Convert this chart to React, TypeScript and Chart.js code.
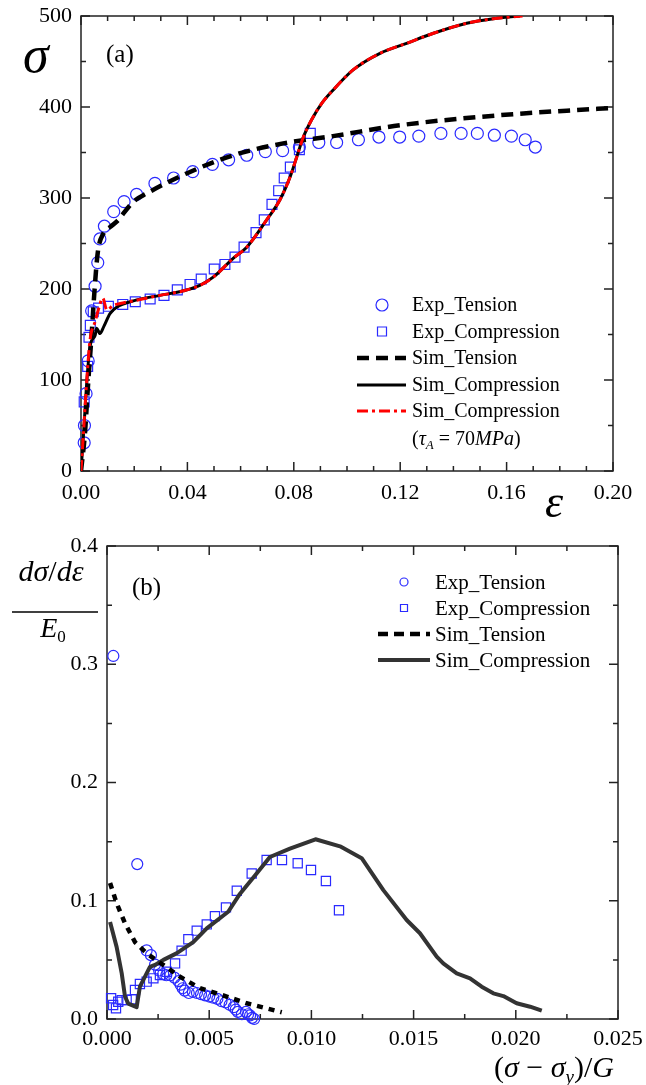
import React, { useEffect, useRef } from "react";
import { Chart, registerables } from "chart.js";
Chart.register(...registerables);

const FONT = "'Liberation Serif', 'Times New Roman', Times, serif";

// ---------------- Panel (a): stress-strain ----------------
const aExpTensionStrain = [0.0012, 0.0013, 0.0019, 0.0027, 0.004, 0.0053, 0.0063, 0.0071, 0.0088, 0.0123, 0.0162, 0.0209, 0.0278, 0.0348, 0.042, 0.0494, 0.0555, 0.0623, 0.0693, 0.0758, 0.0821, 0.0894, 0.0961, 0.1043, 0.112, 0.1198, 0.127, 0.1353, 0.1429, 0.149, 0.1554, 0.1618, 0.167, 0.1708];
const aExpTensionStress = [31, 50, 85, 121, 176, 203, 229, 255, 269, 285, 296, 304, 316, 322, 329, 337, 342, 347, 351, 352, 356, 361, 361, 364, 367, 367, 368, 371, 371, 371, 369, 368, 364, 356];

const aExpCompStrain = [0.0012, 0.0025, 0.003, 0.0035, 0.0046, 0.0066, 0.0103, 0.0157, 0.0204, 0.026, 0.0312, 0.0362, 0.041, 0.0452, 0.0501, 0.0541, 0.0579, 0.0613, 0.0658, 0.0689, 0.0718, 0.0743, 0.0764, 0.0787, 0.0821, 0.0862];
const aExpCompStress = [76, 115, 147, 160, 175, 179, 181, 183, 186, 189, 193, 199, 205, 211, 222, 227, 235, 246, 262, 276, 293, 308, 322, 334, 353, 371];

const aSimTensionStrain = [0, 0.0015, 0.0027, 0.004, 0.005, 0.0063, 0.0084, 0.0109, 0.0134, 0.0197, 0.0247, 0.0397, 0.0573, 0.076, 0.0947, 0.12, 0.1575, 0.1826, 0.2];
const aSimTensionStress = [0, 42, 97, 150, 195, 240, 261, 268, 274, 296, 305, 327, 347, 360, 368, 380, 391, 396, 399];

const aSimCompStrain = [0, 0.0009, 0.0019, 0.0034, 0.0053, 0.0059, 0.0071, 0.0086, 0.0109, 0.0134, 0.0197, 0.0297, 0.0385, 0.0447, 0.0497, 0.0573, 0.0623, 0.0698, 0.0748, 0.0786, 0.0811, 0.0836, 0.0867, 0.0905, 0.0949, 0.1024, 0.1124, 0.1224, 0.1325, 0.145, 0.155, 0.165];
const aSimCompStress = [0, 38, 86, 137, 149, 157, 151, 159, 173, 180, 187, 193, 198, 204, 213, 234, 246, 276, 298, 323, 345, 367, 386, 404, 419, 441, 459, 470, 481, 492, 497, 500];

const aSimComp70Strain = [0, 0.0009, 0.0019, 0.0034, 0.0053, 0.0065, 0.0082, 0.0097, 0.0121, 0.0147, 0.0197, 0.0297, 0.0385, 0.0447, 0.0497, 0.0573, 0.0623, 0.0698, 0.0748, 0.0786, 0.0811, 0.0836, 0.0867, 0.0905, 0.0949, 0.1024, 0.1124, 0.1224, 0.1325, 0.145, 0.155, 0.166];
const aSimComp70Stress = [0, 40, 88, 144, 164, 177, 190, 177, 182, 184, 187, 193, 198, 204, 213, 234, 246, 276, 298, 323, 345, 367, 386, 404, 419, 441, 459, 470, 481, 492, 497, 500];

const aLabels = ["Exp_Tension", "Exp_Compression", "Sim_Tension", "Sim_Compression", "Sim_Compression"];
const aXRange = [0, 0.2];
const aXStep = 0.04;
const aYRange = [0, 500];
const aYStep = 100;

// ---------------- Panel (b): hardening rate ----------------
const bExpTensionX = [0.00031, 0.00148, 0.00194, 0.00215, 0.00235, 0.00255, 0.00275, 0.0029, 0.0031, 0.0033, 0.0035, 0.0036, 0.0037, 0.0038, 0.004, 0.0042, 0.0044, 0.0046, 0.0048, 0.005, 0.0052, 0.0054, 0.0056, 0.0058, 0.006, 0.0062, 0.0063, 0.0064, 0.0066, 0.0068, 0.0069, 0.007, 0.0071, 0.0072];
const bExpTensionY = [0.307, 0.131, 0.058, 0.054, 0.046, 0.041, 0.038, 0.037, 0.037, 0.035, 0.032, 0.029, 0.026, 0.024, 0.022, 0.023, 0.022, 0.021, 0.02, 0.019, 0.018, 0.017, 0.015, 0.014, 0.012, 0.01, 0.008, 0.006, 0.004, 0.006, 0.004, 0.003, 0.001, 0.0];

const bExpCompX = [0.0002, 0.0003, 0.00044, 0.00055, 0.00072, 0.00096, 0.00121, 0.00137, 0.00161, 0.00194, 0.00227, 0.00259, 0.00292, 0.00333, 0.00365, 0.00398, 0.00439, 0.00488, 0.00528, 0.00582, 0.00635, 0.00708, 0.00781, 0.00856, 0.00933, 0.00998, 0.01071, 0.01135];
const bExpCompY = [0.0175, 0.0118, 0.009, 0.0146, 0.016, 0.016, 0.0166, 0.0245, 0.0296, 0.0316, 0.0344, 0.0372, 0.04, 0.047, 0.0578, 0.0674, 0.0747, 0.08, 0.087, 0.0944, 0.1085, 0.123, 0.1345, 0.1345, 0.1317, 0.126, 0.1167, 0.092];

const bSimTensionX = [0.00015, 0.00047, 0.00088, 0.00137, 0.00194, 0.00275, 0.00357, 0.00455, 0.00586, 0.00683, 0.00781, 0.00855];
const bSimTensionY = [0.115, 0.098, 0.081, 0.065, 0.0555, 0.0457, 0.0358, 0.026, 0.019, 0.0133, 0.009, 0.0057];

const bSimCompX = [0.00015, 0.00047, 0.00072, 0.00088, 0.00104, 0.00145, 0.00161, 0.0021, 0.00235, 0.00276, 0.0034, 0.00422, 0.00488, 0.00593, 0.00651, 0.00732, 0.00797, 0.00895, 0.0102, 0.0114, 0.01246, 0.01352, 0.01466, 0.01531, 0.01613, 0.01645, 0.01711, 0.01776, 0.01833, 0.0189, 0.01939, 0.02004, 0.0207, 0.02127];
const bSimCompY = [0.082, 0.061, 0.0386, 0.019, 0.013, 0.01, 0.0273, 0.044, 0.0457, 0.05, 0.0555, 0.065, 0.0767, 0.0907, 0.106, 0.123, 0.137, 0.144, 0.152, 0.146, 0.136, 0.109, 0.0837, 0.0725, 0.0527, 0.047, 0.0386, 0.0344, 0.0273, 0.0217, 0.0194, 0.0133, 0.0104, 0.007];

const bLabels = ["Exp_Tension", "Exp_Compression", "Sim_Tension", "Sim_Compression"];
const bXRange = [0, 0.025];
const bXStep = 0.005;
const bYRange = [0, 0.4];
const bYStep = 0.1;

// ---------------- helpers ----------------
const pts = (xs: number[], ys: number[]) => xs.map((x, i) => ({ x, y: ys[i] }));

type Seg = { t: string; italic?: boolean; size: number; dy?: number };

function richWidth(ctx: CanvasRenderingContext2D, segs: Seg[]) {
  let w = 0;
  for (const s of segs) {
    ctx.font = `${s.italic ? "italic " : ""}${s.size}px ${FONT}`;
    w += ctx.measureText(s.t).width;
  }
  return w;
}
function drawRich(ctx: CanvasRenderingContext2D, segs: Seg[], x: number, y: number, align = "left") {
  let cx = x;
  if (align === "center") cx = x - richWidth(ctx, segs) / 2;
  if (align === "right") cx = x - richWidth(ctx, segs);
  ctx.textAlign = "left";
  ctx.textBaseline = "alphabetic";
  ctx.fillStyle = "#000";
  for (const s of segs) {
    ctx.font = `${s.italic ? "italic " : ""}${s.size}px ${FONT}`;
    ctx.fillText(s.t, cx, y + (s.dy || 0));
    cx += ctx.measureText(s.t).width;
  }
}

function framePlugin(cfg: any) {
  return {
    id: "paperFrame",
    beforeDatasetsDraw(chart: any) {
      const { ctx, chartArea: ca, scales } = chart;
      const xs = scales.x, ys = scales.y;
      ctx.save();
      ctx.strokeStyle = "#222";
      ctx.lineWidth = 1.5;
      ctx.setLineDash([]);
      ctx.strokeRect(ca.left, ca.top, ca.right - ca.left, ca.bottom - ca.top);
      ctx.beginPath();
      const nx = Math.round((xs.max - xs.min) / cfg.xMinor);
      for (let i = 0; i <= nx; i++) {
        const v = xs.min + i * cfg.xMinor;
        const r = v / cfg.xMajor;
        const len = Math.abs(r - Math.round(r)) < 1e-6 ? cfg.majorLen : cfg.minorLen;
        const px = xs.getPixelForValue(v);
        ctx.moveTo(px, ca.bottom); ctx.lineTo(px, ca.bottom - len);
        ctx.moveTo(px, ca.top); ctx.lineTo(px, ca.top + len);
      }
      const ny = Math.round((ys.max - ys.min) / cfg.yMinor);
      for (let i = 0; i <= ny; i++) {
        const v = ys.min + i * cfg.yMinor;
        const r = v / cfg.yMajor;
        const len = Math.abs(r - Math.round(r)) < 1e-6 ? cfg.majorLen : cfg.minorLen;
        const py = ys.getPixelForValue(v);
        ctx.moveTo(ca.left, py); ctx.lineTo(ca.left + len, py);
        ctx.moveTo(ca.right, py); ctx.lineTo(ca.right - len, py);
      }
      ctx.stroke();
      ctx.restore();
    },
  };
}

function legendPlugin(cfg: any) {
  return {
    id: "paperLegend",
    afterDraw(chart: any) {
      const { ctx } = chart;
      chart.data.datasets.forEach((ds: any, i: number) => {
        const y = cfg.rows[i];
        ctx.save();
        if (ds.showLine) {
          ctx.strokeStyle = ds.borderColor;
          ctx.lineWidth = ds.borderWidth;
          ctx.setLineDash((cfg.dash && cfg.dash[i]) || ds.borderDash || []);
          ctx.beginPath();
          ctx.moveTo(cfg.lineX0, y);
          ctx.lineTo(cfg.lineX1, y);
          ctx.stroke();
        } else {
          ctx.strokeStyle = ds.borderColor;
          ctx.lineWidth = ds.borderWidth;
          ctx.setLineDash([]);
          ctx.beginPath();
          if (ds.pointStyle === "rect") {
            const h = cfg.squareHalf;
            ctx.rect(cfg.markerX - h, y - h, 2 * h, 2 * h);
          } else {
            ctx.arc(cfg.markerX, y, cfg.circleR, 0, Math.PI * 2);
          }
          ctx.stroke();
        }
        ctx.fillStyle = "#000";
        ctx.font = `${cfg.fontSize}px ${FONT}`;
        ctx.textAlign = "left";
        ctx.textBaseline = "middle";
        ctx.fillText(ds.label, cfg.textX, y + 1);
        ctx.restore();
      });
      if (cfg.extra) {
        ctx.save();
        drawRich(ctx, cfg.extra.segs, cfg.extra.x, cfg.extra.y);
        ctx.restore();
      }
    },
  };
}

function textPlugin(cfg: any) {
  return {
    id: "paperTexts",
    afterDraw(chart: any) {
      const { ctx } = chart;
      ctx.save();
      for (const it of cfg.items) drawRich(ctx, it.segs, it.x, it.y, it.align || "left");
      for (const ln of cfg.lines || []) {
        ctx.strokeStyle = "#000";
        ctx.lineWidth = ln.w;
        ctx.beginPath();
        ctx.moveTo(ln.x0, ln.y);
        ctx.lineTo(ln.x1, ln.y);
        ctx.stroke();
      }
      ctx.restore();
    },
  };
}

function scalesCfg(xr: number[], xs: number, xd: number, yr: number[], ys: number, yd: number, xH: number, yW: number, xPad: number) {
  const tickFont = { family: FONT, size: 22 };
  return {
    x: {
      type: "linear",
      min: xr[0],
      max: xr[1],
      grid: { display: false, drawTicks: false },
      border: { display: false },
      ticks: { stepSize: xs, color: "#000", font: tickFont, padding: xPad, autoSkip: false, maxRotation: 0, callback: (v: any) => Number(v).toFixed(xd) },
      afterFit: (s: any) => { s.height = xH; s.paddingLeft = 0; s.paddingRight = 0; },
    },
    y: {
      type: "linear",
      min: yr[0],
      max: yr[1],
      grid: { display: false, drawTicks: false },
      border: { display: false },
      ticks: { stepSize: ys, color: "#000", font: tickFont, padding: 9, autoSkip: false, callback: (v: any) => Number(v).toFixed(yd) },
      afterFit: (s: any) => { s.width = yW; s.paddingTop = 0; s.paddingBottom = 0; },
    },
  };
}

const BLUE = "#2a2aff";

function PanelA() {
  const ref = useRef<HTMLCanvasElement>(null);
  useEffect(() => {
    const lineBase = { showLine: true, pointRadius: 0, fill: false, cubicInterpolationMode: "monotone" };
    const chart = new Chart(ref.current!, {
      type: "scatter",
      data: {
        datasets: [
          { label: aLabels[0], data: pts(aExpTensionStrain, aExpTensionStress), pointStyle: "circle", pointRadius: 6, borderColor: BLUE, backgroundColor: "rgba(0,0,0,0)", borderWidth: 1.2, order: 6, clip: false },
          { label: aLabels[1], data: pts(aExpCompStrain, aExpCompStress), pointStyle: "rect", pointRadius: 7, borderColor: BLUE, backgroundColor: "rgba(0,0,0,0)", borderWidth: 1.2, order: 5, clip: false },
          { ...lineBase, label: aLabels[2], data: pts(aSimTensionStrain, aSimTensionStress), borderColor: "#000", borderWidth: 4.5, borderDash: [12, 7], order: 2 },
          { ...lineBase, label: aLabels[3], data: pts(aSimCompStrain, aSimCompStress), borderColor: "#000", borderWidth: 3, order: 1 },
          { ...lineBase, label: aLabels[4], data: pts(aSimComp70Strain, aSimComp70Stress), borderColor: "#ff0000", borderWidth: 3, borderDash: [11, 4, 3, 4], order: 0 },
        ],
      } as any,
      options: {
        animation: false,
        responsive: false,
        devicePixelRatio: 1,
        events: [],
        layout: { padding: { top: 16, right: 33, left: 0, bottom: 0 } },
        plugins: { legend: { display: false }, tooltip: { enabled: false } },
        scales: scalesCfg(aXRange, aXStep, 2, aYRange, aYStep, 0, 59, 81, 9) as any,
      },
      plugins: [
        framePlugin({ xMinor: 0.01, xMajor: aXStep, yMinor: 50, yMajor: aYStep, majorLen: 9, minorLen: 5 }),
        legendPlugin({ rows: [305, 331.5, 358, 385, 411], lineX0: 357, lineX1: 406, markerX: 382, textX: 412, circleR: 6, squareHalf: 4.5, fontSize: 20,
          extra: { x: 412, y: 445, segs: [
            { t: "(", size: 20 }, { t: "τ", italic: true, size: 20 }, { t: "A", italic: true, size: 13, dy: 4 },
            { t: " = 70", size: 20 }, { t: "MPa", italic: true, size: 20 }, { t: ")", size: 20 },
          ] } }),
        textPlugin({ items: [
          { x: 23, y: 72, segs: [{ t: "σ", italic: true, size: 52 }] },
          { x: 106, y: 62, segs: [{ t: "(a)", size: 25 }] },
          { x: 545, y: 517, segs: [{ t: "ε", italic: true, size: 46 }] },
        ] }),
      ] as any,
    });
    return () => chart.destroy();
  }, []);
  return <canvas ref={ref} width={646} height={530} style={{ display: "block" }} />;
}

function PanelB() {
  const ref = useRef<HTMLCanvasElement>(null);
  useEffect(() => {
    const lineBase = { showLine: true, pointRadius: 0, fill: false, tension: 0 };
    const chart = new Chart(ref.current!, {
      type: "scatter",
      data: {
        datasets: [
          { label: bLabels[0], data: pts(bExpTensionX, bExpTensionY), pointStyle: "circle", pointRadius: 5.5, borderColor: BLUE, backgroundColor: "rgba(0,0,0,0)", borderWidth: 1.2, order: 4, clip: false },
          { label: bLabels[1], data: pts(bExpCompX, bExpCompY), pointStyle: "rect", pointRadius: 6.5, borderColor: BLUE, backgroundColor: "rgba(0,0,0,0)", borderWidth: 1.2, order: 5, clip: false },
          { ...lineBase, label: bLabels[2], data: pts(bSimTensionX, bSimTensionY), borderColor: "#000", borderWidth: 4.5, borderDash: [6, 6], order: 1 },
          { ...lineBase, label: bLabels[3], data: pts(bSimCompX, bSimCompY), borderColor: "#333", borderWidth: 4, borderJoinStyle: "round", order: 2 },
        ],
      } as any,
      options: {
        animation: false,
        responsive: false,
        devicePixelRatio: 1,
        events: [],
        layout: { padding: { top: 16, right: 28, left: 0, bottom: 0 } },
        plugins: { legend: { display: false }, tooltip: { enabled: false } },
        scales: scalesCfg(bXRange, bXStep, 3, bYRange, bYStep, 1, 66, 107, 7) as any,
      },
      plugins: [
        framePlugin({ xMinor: 0.0025, xMajor: bXStep, yMinor: 0.05, yMajor: bYStep, majorLen: 9, minorLen: 5 }),
        legendPlugin({ rows: [52, 78, 104, 130], lineX0: 378, lineX1: 430, markerX: 404, textX: 435, circleR: 4, squareHalf: 3.5, fontSize: 21, dash: [null, null, [10, 6], null] }),
        textPlugin({
          items: [
            { x: 51, y: 51, align: "center", segs: [{ t: "dσ", italic: true, size: 30 }, { t: "/", size: 30 }, { t: "dε", italic: true, size: 30 }] },
            { x: 53, y: 107, align: "center", segs: [{ t: "E", italic: true, size: 28 }, { t: "0", size: 17, dy: 5 }] },
            { x: 132, y: 65, segs: [{ t: "(b)", size: 25 }] },
            { x: 494, y: 547, segs: [
              { t: "(", size: 30 }, { t: "σ", italic: true, size: 30 }, { t: " − ", size: 30 }, { t: "σ", italic: true, size: 30 },
              { t: "y", italic: true, size: 19, dy: 6 }, { t: ")", size: 30 }, { t: "/", size: 30 }, { t: "G", italic: true, size: 30 },
            ] },
          ],
          lines: [{ x0: 12, x1: 98, y: 82, w: 1.5 }],
        }),
      ] as any,
    });
    return () => chart.destroy();
  }, []);
  return <canvas ref={ref} width={646} height={555} style={{ display: "block" }} />;
}

export default function App() {
  return (
    <div style={{ position: "absolute", left: 0, top: 0, width: 646, height: 1085, background: "#fff" }}>
      <div style={{ position: "absolute", left: 0, top: 0 }}>
        <PanelA />
      </div>
      <div style={{ position: "absolute", left: 0, top: 530 }}>
        <PanelB />
      </div>
    </div>
  );
}
